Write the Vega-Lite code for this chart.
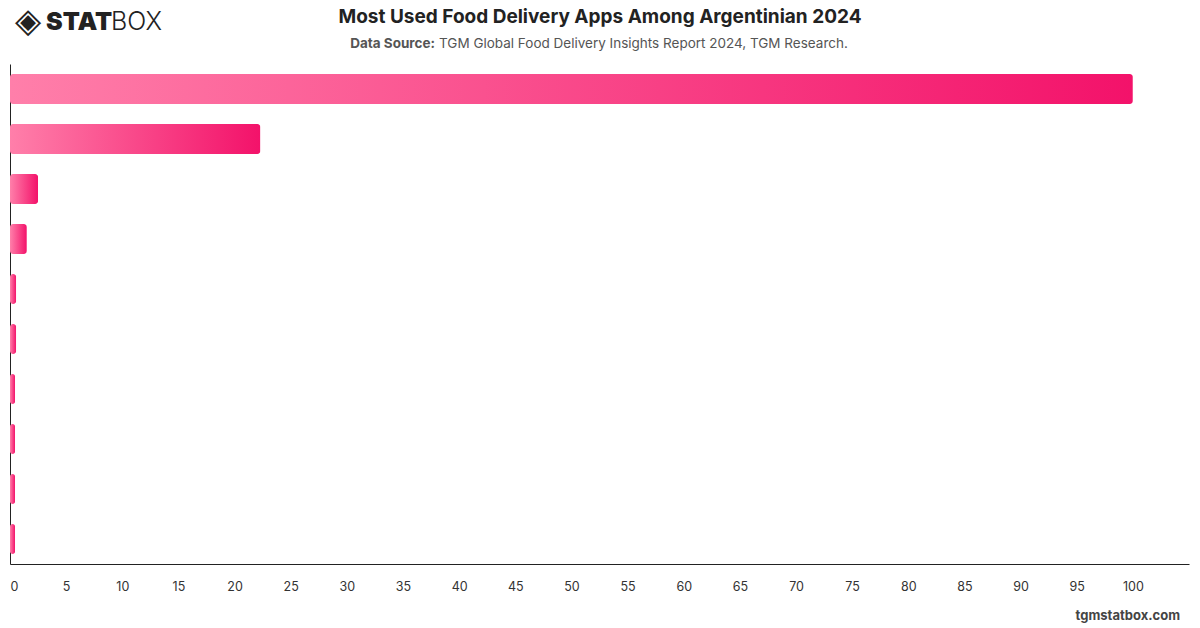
{
  "$schema": "https://vega.github.io/schema/vega-lite/v6.json",
  "autosize": "none",
  "width": 1179,
  "height": 500,
  "padding": {"left": 10, "top": 64, "right": 11, "bottom": 64},
  "background": "#ffffff",
  "config": {
    "view": {"stroke": null},
    "font": "Inter",
    "axis": {"labelFont": "Inter", "titleFont": "Inter"}
  },
  "data": {
    "values": [
      {"app": "App A", "share": 100},
      {"app": "App B", "share": 22.3},
      {"app": "App C", "share": 2.5},
      {"app": "App D", "share": 1.5},
      {"app": "App E", "share": 0.55},
      {"app": "App F", "share": 0.55},
      {"app": "App G", "share": 0.45},
      {"app": "App H", "share": 0.45},
      {"app": "App I", "share": 0.45},
      {"app": "App J", "share": 0.45}
    ]
  },
  "layer": [
    {
      "mark": {
        "type": "bar",
        "cornerRadius": 3,
        "fill": {
          "gradient": "linear",
          "x1": 0, "y1": 0, "x2": 1, "y2": 0,
          "stops": [
            {"offset": 0, "color": "#ff7faa"},
            {"offset": 1, "color": "#f3126a"}
          ]
        }
      },
      "encoding": {
        "y": {
          "field": "app",
          "type": "nominal",
          "sort": null,
          "scale": {"paddingInner": 0.4, "paddingOuter": 0.2},
          "axis": {"labels": false, "ticks": false, "title": null, "domainColor": "#222222", "domainWidth": 1}
        },
        "x": {
          "field": "share",
          "type": "quantitative",
          "scale": {"domain": [0, 105], "nice": false},
          "axis": {
            "values": [0, 5, 10, 15, 20, 25, 30, 35, 40, 45, 50, 55, 60, 65, 70, 75, 80, 85, 90, 95, 100],
            "grid": false,
            "ticks": false,
            "title": null,
            "labelPadding": 16,
            "labelFontSize": 12.5,
            "labelColor": "#333333",
            "labelDx": 2,
            "domainColor": "#222222",
            "domainWidth": 1
          }
        }
      }
    },
    {
      "data": {"values": [{"t": "Most Used Food Delivery Apps Among Argentinian 2024"}]},
      "mark": {"type": "text", "x": 590, "y": -47, "align": "center", "baseline": "middle", "fontSize": 19, "fontWeight": "bold", "color": "#222222", "font": "Inter"},
      "encoding": {"text": {"field": "t"}}
    },
    {
      "data": {"values": [{"t": "Data Source:"}]},
      "mark": {"type": "text", "x": 425, "y": -20, "align": "right", "baseline": "middle", "fontSize": 13.5, "fontWeight": "bold", "color": "#555555", "font": "Inter"},
      "encoding": {"text": {"field": "t"}}
    },
    {
      "data": {"values": [{"t": "TGM Global Food Delivery Insights Report 2024, TGM Research."}]},
      "mark": {"type": "text", "x": 429, "y": -20, "align": "left", "baseline": "middle", "fontSize": 13.5, "color": "#555555", "font": "Inter"},
      "encoding": {"text": {"field": "t"}}
    },
    {
      "data": {"values": [{"t": "tgmstatbox.com"}]},
      "mark": {"type": "text", "x": 1170, "y": 552, "align": "right", "baseline": "middle", "fontSize": 13, "fontWeight": "bold", "color": "#444444", "font": "Inter"},
      "encoding": {"text": {"field": "t"}}
    },
    {
      "data": {"values": [{"t": "◈"}]},
      "mark": {"type": "text", "x": 18, "y": -42, "align": "center", "baseline": "middle", "fontSize": 34, "color": "#222222", "font": "DejaVu Sans"},
      "encoding": {"text": {"field": "t"}}
    },
    {
      "data": {"values": [{"t": "STAT"}]},
      "mark": {"type": "text", "x": 36, "y": -42, "align": "left", "baseline": "middle", "fontSize": 25, "fontWeight": 900, "color": "#222222", "font": "Inter"},
      "encoding": {"text": {"field": "t"}}
    },
    {
      "data": {"values": [{"t": "BOX"}]},
      "mark": {"type": "text", "x": 101, "y": -42, "align": "left", "baseline": "middle", "fontSize": 25, "fontWeight": 300, "color": "#222222", "font": "Inter"},
      "encoding": {"text": {"field": "t"}}
    }
  ]
}
